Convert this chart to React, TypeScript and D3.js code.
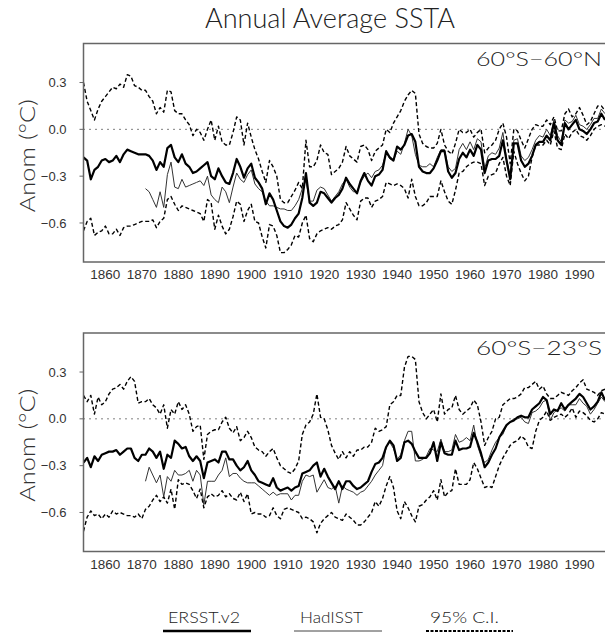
import React from 'react';
import * as d3 from 'd3';

// years covered by each record
const years = d3.range(1854, 1998);
const hadYears = d3.range(1871, 1998);
const xTicks = d3.range(1860, 2000, 10);
const yTicks = [0.3, 0.0, -0.3, -0.6];

// 60S-60N
const ersstGlobal = [
  -0.18, -0.20, -0.32, -0.26, -0.24, -0.20,
  -0.19, -0.21, -0.20, -0.17, -0.21, -0.16, -0.13, -0.14, -0.15, -0.16,
  -0.16, -0.16, -0.17, -0.20, -0.26, -0.21, -0.24, -0.12, -0.10, -0.18,
  -0.21, -0.16, -0.22, -0.24, -0.28, -0.27, -0.25, -0.23, -0.21, -0.30,
  -0.32, -0.25, -0.30, -0.34, -0.35, -0.28, -0.19, -0.24, -0.31, -0.25,
  -0.22, -0.31, -0.34, -0.38, -0.48, -0.41, -0.45, -0.52, -0.59, -0.62,
  -0.63, -0.61, -0.57, -0.54, -0.44, -0.28, -0.47, -0.49, -0.47, -0.40,
  -0.41, -0.44, -0.47, -0.44, -0.42, -0.38, -0.31, -0.35, -0.38, -0.41,
  -0.33, -0.28, -0.33, -0.36, -0.30, -0.29, -0.26, -0.14, -0.18, -0.20,
  -0.11, -0.13, -0.10, -0.04, -0.03, -0.08, -0.24, -0.27, -0.28, -0.28,
  -0.25, -0.20, -0.14, -0.14, -0.27, -0.31, -0.28, -0.19, -0.15, -0.18,
  -0.13, -0.17, -0.10, -0.13, -0.28, -0.20, -0.19, -0.19, -0.17, -0.07,
  -0.20, -0.32, -0.09, -0.09, -0.20, -0.24, -0.22, -0.17, -0.10, -0.08,
  -0.08, -0.04, -0.07, 0.04, -0.07, -0.10, 0.04, 0.00, 0.03, 0.06,
  0.00, -0.01, -0.03, 0.00, 0.04, 0.05, 0.10, 0.06,
];
const hadGlobal = [
  -0.38, -0.40, -0.45, -0.50, -0.40, -0.50, -0.29, -0.21, -0.37,
  -0.38, -0.32, -0.37, -0.36, -0.35, -0.34, -0.33, -0.36, -0.30, -0.42,
  -0.45, -0.47, -0.37, -0.40, -0.47, -0.37, -0.28, -0.32, -0.34, -0.29,
  -0.26, -0.35, -0.38, -0.40, -0.46, -0.49, -0.49, -0.50, -0.51, -0.51,
  -0.52, -0.52, -0.49, -0.45, -0.38, -0.33, -0.46, -0.46, -0.39, -0.37,
  -0.38, -0.42, -0.46, -0.43, -0.40, -0.35, -0.32, -0.37, -0.40, -0.40,
  -0.34, -0.30, -0.28, -0.31, -0.27, -0.26, -0.23, -0.15, -0.19, -0.20,
  -0.14, -0.16, -0.09, 0.00, -0.04, -0.16, -0.23, -0.24, -0.24, -0.22,
  -0.24, -0.18, -0.13, -0.13, -0.24, -0.27, -0.25, -0.13, -0.09, -0.13,
  -0.08, -0.13, -0.06, -0.08, -0.25, -0.17, -0.15, -0.16, -0.12, -0.02,
  -0.19, -0.30, -0.07, -0.06, -0.17, -0.20, -0.18, -0.13, -0.07, -0.04,
  -0.05, 0.00, -0.04, 0.06, -0.04, -0.08, 0.06, 0.04, 0.05, 0.09,
  0.03, 0.02, 0.00, 0.03, 0.07, 0.07, 0.13, 0.10,
];
const upperGlobal = [
  0.30, 0.18, 0.12, 0.06, 0.13, 0.18,
  0.21, 0.24, 0.27, 0.26, 0.29, 0.27, 0.35, 0.34, 0.28, 0.27,
  0.25, 0.25, 0.21, 0.18, 0.10, 0.14, 0.11, 0.25, 0.24, 0.12,
  0.10, 0.10, 0.06, 0.03, -0.04, 0.00, -0.02, -0.07, 0.00, 0.06,
  -0.07, 0.02, -0.08, -0.10, -0.10, -0.02, 0.08, 0.06, -0.10, 0.04,
  -0.05, -0.13, -0.19, -0.27, -0.34, -0.20, -0.24, -0.30, -0.45, -0.47,
  -0.47, -0.43, -0.39, -0.34, -0.38, -0.07, -0.24, -0.24, -0.20, -0.10,
  -0.15, -0.16, -0.29, -0.27, -0.25, -0.21, -0.11, -0.17, -0.19, -0.21,
  -0.11, -0.10, -0.13, -0.20, -0.14, -0.12, -0.10, 0.00, -0.02, 0.04,
  0.08, 0.12, 0.18, 0.22, 0.25, 0.23, -0.03, -0.09, -0.11, -0.12,
  -0.12, -0.09, 0.00, -0.10, -0.14, -0.16, -0.09, 0.00, -0.02, -0.02,
  0.00, -0.05, -0.02, 0.00, -0.15, -0.12, -0.10, -0.07, 0.00, 0.04,
  -0.05, -0.22, 0.00, -0.01, -0.07, -0.12, -0.06, 0.00, 0.03, 0.02,
  0.02, 0.06, 0.03, 0.08, -0.01, -0.01, 0.10, 0.13, 0.08, 0.10,
  0.14, 0.09, 0.03, 0.05, 0.10, 0.15, 0.15, 0.12,
];
const lowerGlobal = [
  -0.65, -0.59, -0.57, -0.68, -0.66, -0.65,
  -0.62, -0.67, -0.67, -0.64, -0.68, -0.63, -0.62, -0.62, -0.61, -0.60,
  -0.59, -0.59, -0.59, -0.58, -0.63, -0.59, -0.57, -0.45, -0.43, -0.48,
  -0.52, -0.49, -0.50, -0.51, -0.52, -0.53, -0.54, -0.59, -0.45, -0.47,
  -0.64, -0.55, -0.62, -0.67, -0.64, -0.56, -0.46, -0.48, -0.59, -0.52,
  -0.48, -0.59, -0.60, -0.69, -0.76, -0.61, -0.62, -0.68, -0.79, -0.79,
  -0.77, -0.74, -0.68, -0.69, -0.60, -0.55, -0.70, -0.72, -0.67, -0.65,
  -0.64, -0.63, -0.64, -0.62, -0.61, -0.58, -0.47, -0.51, -0.55, -0.58,
  -0.46, -0.44, -0.44, -0.50, -0.46, -0.45, -0.43, -0.34, -0.35, -0.36,
  -0.35, -0.36, -0.38, -0.44, -0.32, -0.43, -0.49, -0.49, -0.47, -0.43,
  -0.43, -0.43, -0.33, -0.40, -0.46, -0.48, -0.39, -0.28, -0.27, -0.24,
  -0.22, -0.21, -0.21, -0.22, -0.36, -0.30, -0.29, -0.28, -0.22, -0.18,
  -0.30, -0.36, -0.14, -0.22, -0.28, -0.33, -0.30, -0.18, -0.10, -0.10,
  -0.10, -0.07, -0.10, -0.01, -0.12, -0.13, -0.03, -0.06, -0.02, 0.00,
  -0.04, -0.05, -0.07, -0.04, 0.00, 0.02, 0.03, 0.02,
];

// 60S-23S
const ersstSouth = [
  -0.28, -0.25, -0.31, -0.24, -0.27, -0.23,
  -0.22, -0.21, -0.21, -0.20, -0.23, -0.21, -0.19, -0.19, -0.25, -0.27,
  -0.23, -0.23, -0.19, -0.21, -0.25, -0.21, -0.32, -0.23, -0.25, -0.14,
  -0.16, -0.19, -0.18, -0.24, -0.27, -0.24, -0.27, -0.38, -0.28, -0.27,
  -0.26, -0.28, -0.21, -0.21, -0.26, -0.26, -0.30, -0.33, -0.31, -0.27,
  -0.33, -0.36, -0.40, -0.41, -0.42, -0.43, -0.38, -0.44, -0.46, -0.45,
  -0.44, -0.46, -0.44, -0.43, -0.35, -0.34, -0.33, -0.30, -0.28, -0.37,
  -0.32, -0.37, -0.41, -0.45, -0.40, -0.45, -0.40, -0.40, -0.43, -0.45,
  -0.44, -0.42, -0.40, -0.34, -0.29, -0.28, -0.25, -0.18, -0.14, -0.17,
  -0.27, -0.25, -0.15, -0.14, -0.16, -0.21, -0.25, -0.25, -0.25, -0.22,
  -0.15, -0.27, -0.15, -0.22, -0.23, -0.23, -0.14, -0.20, -0.19, -0.19,
  -0.18, -0.09, -0.15, -0.22, -0.31, -0.28, -0.23, -0.19, -0.12, -0.08,
  -0.04, -0.02, -0.01, 0.01, 0.02, 0.01, 0.01, 0.06, 0.08, 0.10,
  0.14, 0.12, 0.03, 0.06, 0.05, 0.10, 0.06, 0.09, 0.11, 0.13,
  0.16, 0.14, 0.10, 0.06, 0.08, 0.11, 0.17, 0.12,
];
const hadSouth = [
  -0.40, -0.31, -0.36, -0.41, -0.36, -0.50, -0.37, -0.40, -0.33,
  -0.36, -0.36, -0.35, -0.33, -0.40, -0.33, -0.36, -0.55, -0.40, -0.40,
  -0.40, -0.36, -0.33, -0.25, -0.37, -0.35, -0.35, -0.38, -0.40, -0.41,
  -0.41, -0.41, -0.43, -0.45, -0.47, -0.49, -0.47, -0.49, -0.48, -0.48,
  -0.48, -0.52, -0.49, -0.49, -0.40, -0.36, -0.37, -0.36, -0.47, -0.43,
  -0.39, -0.44, -0.45, -0.43, -0.54, -0.43, -0.45, -0.46, -0.47, -0.49,
  -0.47, -0.46, -0.43, -0.40, -0.36, -0.33, -0.30, -0.18, -0.15, -0.19,
  -0.26, -0.23, -0.14, -0.08, -0.08, -0.27, -0.27, -0.26, -0.24, -0.19,
  -0.20, -0.21, -0.13, -0.21, -0.21, -0.20, -0.10, -0.15, -0.14, -0.12,
  -0.14, -0.04, -0.17, -0.24, -0.28, -0.26, -0.20, -0.15, -0.12, -0.10,
  -0.04, -0.02, 0.00, 0.00, 0.01, -0.02, -0.03, 0.04, 0.05, 0.07,
  0.11, 0.12, -0.01, 0.04, 0.06, 0.07, 0.05, 0.09, 0.09, 0.09,
  0.13, 0.10, 0.08, 0.03, 0.06, 0.10, 0.14, 0.11,
];
const upperSouth = [
  0.15, 0.11, 0.15, 0.03, 0.14, 0.09,
  0.11, 0.16, 0.19, 0.20, 0.22, 0.19, 0.24, 0.27, 0.24, 0.10,
  0.11, 0.11, 0.13, 0.09, 0.07, 0.03, 0.09, -0.06, 0.06, 0.03,
  0.11, 0.06, 0.09, 0.03, -0.08, -0.05, -0.04, -0.26, -0.10, -0.08,
  -0.07, -0.07, -0.02, 0.01, -0.06, -0.09, -0.05, -0.14, -0.12, -0.08,
  -0.12, -0.18, -0.20, -0.21, -0.24, -0.21, -0.19, -0.25, -0.30, -0.32,
  -0.34, -0.35, -0.32, -0.27, -0.10, -0.04, -0.02, 0.03, 0.16, 0.01,
  0.00, -0.07, -0.17, -0.22, -0.26, -0.21, -0.25, -0.21, -0.24, -0.20,
  -0.20, -0.18, -0.18, -0.15, -0.06, -0.08, -0.07, -0.05, 0.09, 0.11,
  0.15, 0.15, 0.33, 0.40, 0.40, 0.38, 0.11, 0.04, 0.00, 0.03,
  0.06, -0.02, 0.16, 0.03, 0.06, 0.07, 0.15, 0.06, 0.03, 0.05,
  0.07, 0.12, 0.09, -0.02, -0.17, -0.12, -0.08, 0.00, 0.01, 0.09,
  0.11, 0.13, 0.13, 0.14, 0.16, 0.20, 0.20, 0.22, 0.24, 0.19,
  0.21, 0.16, 0.13, 0.13, 0.15, 0.17, 0.16, 0.15, 0.18, 0.20,
  0.23, 0.25, 0.19, 0.18, 0.17, 0.15, 0.18, 0.19,
];
const lowerSouth = [
  -0.72, -0.63, -0.59, -0.62, -0.61, -0.64,
  -0.61, -0.63, -0.59, -0.61, -0.60, -0.61, -0.62, -0.62, -0.63, -0.61,
  -0.64, -0.58, -0.56, -0.52, -0.49, -0.53, -0.50, -0.54, -0.45, -0.58,
  -0.39, -0.42, -0.41, -0.42, -0.46, -0.51, -0.45, -0.57, -0.50, -0.48,
  -0.50, -0.49, -0.46, -0.50, -0.48, -0.51, -0.52, -0.47, -0.53, -0.48,
  -0.61, -0.60, -0.61, -0.61, -0.63, -0.62, -0.57, -0.62, -0.64, -0.58,
  -0.57, -0.58, -0.59, -0.60, -0.64, -0.63, -0.64, -0.66, -0.73, -0.67,
  -0.64, -0.62, -0.60, -0.63, -0.64, -0.65, -0.61, -0.63, -0.65, -0.68,
  -0.68, -0.66, -0.63, -0.60, -0.53, -0.56, -0.51, -0.43, -0.37, -0.44,
  -0.59, -0.64, -0.53, -0.57, -0.62, -0.66, -0.56, -0.55, -0.52, -0.50,
  -0.46, -0.52, -0.39, -0.50, -0.47, -0.46, -0.32, -0.42, -0.42, -0.42,
  -0.39, -0.28, -0.32, -0.38, -0.44, -0.43, -0.44, -0.37, -0.30, -0.25,
  -0.21, -0.17, -0.15, -0.14, -0.11, -0.13, -0.18, -0.19, -0.08, -0.01,
  0.01, 0.05, -0.01, 0.01, 0.02, 0.03, 0.01, 0.03, 0.07, 0.01,
  0.05, 0.04, 0.02, -0.01, -0.02, 0.00, 0.04, 0.03,
];

const W = 605;
const H = 634;
const LEFT = 83.5;
const RIGHT = 605;
const PANEL_H = 218.5;
const FONT = "Lato, 'Open Sans', 'DejaVu Sans', sans-serif";
const TICK_FONT = "'Liberation Sans Narrow', 'Liberation Sans', Arial, sans-serif";

const x = d3.scaleLinear().domain([1854, 1997]).range([LEFT, RIGHT]);
const fmt = d3.format('.1f');

type PanelProps = {
  id: string;
  top: number;
  label: string;
  ersst: number[];
  had: number[];
  upper: number[];
  lower: number[];
};

const Panel = ({ id, top, label, ersst, had, upper, lower }: PanelProps) => {
  const y = d3.scaleLinear().domain([-0.85, 0.55]).range([top + PANEL_H, top]);
  const line = d3.line<[number, number]>()
    .x(d => x(d[0]))
    .y(d => y(d[1]));
  const pts = (yrs: number[], vals: number[]) =>
    yrs.map((yr, i) => [yr, vals[i]] as [number, number]);
  const midY = top + PANEL_H / 2;

  return (
    <g>
      <defs>
        <clipPath id={`clip-${id}`}>
          <rect x={LEFT} y={top} width={RIGHT - LEFT + 10} height={PANEL_H} />
        </clipPath>
      </defs>

      {/* zero line */}
      <line x1={LEFT} x2={RIGHT} y1={y(0)} y2={y(0)}
        stroke="#000" strokeWidth={1} strokeDasharray="1,5" />

      <g clipPath={`url(#clip-${id})`} fill="none" strokeLinejoin="round">
        <path d={line(pts(years, upper)) || ''} stroke="#000" strokeWidth={1.4} strokeDasharray="4,2.5" />
        <path d={line(pts(years, lower)) || ''} stroke="#000" strokeWidth={1.4} strokeDasharray="4,2.5" />
        <path d={line(pts(hadYears, had)) || ''} stroke="#333" strokeWidth={1} />
        <path d={line(pts(years, ersst)) || ''} stroke="#000" strokeWidth={2.2} />
      </g>

      {/* frame */}
      <rect x={LEFT} y={top} width={RIGHT - LEFT + 20} height={PANEL_H}
        fill="none" stroke="#666" strokeWidth={1.5} />

      {yTicks.map(t => (
        <g key={t}>
          <line x1={LEFT - 4} x2={LEFT} y1={y(t)} y2={y(t)} stroke="#666" strokeWidth={1} />
          <text x={LEFT - 17} y={y(t)} dy="0.35em" textAnchor="end"
            fontFamily={TICK_FONT} fontSize={13} fill="#333">{fmt(t)}</text>
        </g>
      ))}

      {xTicks.map(t => (
        <text key={t} x={x(t)} y={top + PANEL_H + 17} textAnchor="middle"
          fontFamily={TICK_FONT} fontSize={13.5} fill="#333">{t}</text>
      ))}

      <text x={602} y={top + 22} textAnchor="end" fontFamily={FONT} fontWeight={300}
        fontSize={19} fill="#222" textLength={126} lengthAdjust="spacingAndGlyphs">{label}</text>

      <text transform={`translate(35, ${midY + 3}) rotate(-90)`} textAnchor="middle"
        fontFamily={FONT} fontWeight={300} fontSize={22} fill="#333"
        textLength={113} lengthAdjust="spacingAndGlyphs">Anom (°C)</text>
    </g>
  );
};

const App = () => {
  return (
    <svg width={W} height={H} style={{ position: 'absolute', left: 0, top: 0, background: '#fff' }}>
      <text x={330} y={28} textAnchor="middle" fontFamily={FONT} fontWeight={300}
        fontSize={28} fill="#222" textLength={250} lengthAdjust="spacingAndGlyphs">Annual Average SSTA</text>

      <Panel id="glob" top={43.5} label="60°S−60°N"
        ersst={ersstGlobal} had={hadGlobal} upper={upperGlobal} lower={lowerGlobal} />
      <Panel id="south" top={333} label="60°S−23°S"
        ersst={ersstSouth} had={hadSouth} upper={upperSouth} lower={lowerSouth} />

      {/* legend */}
      <g fontFamily={FONT} fontWeight={300} fontSize={15} fill="#222">
        <text x={168} y={623} textLength={72} lengthAdjust="spacingAndGlyphs">ERSST.v2</text>
        <line x1={163} x2={251} y1={631} y2={631} stroke="#000" strokeWidth={2.5} />
        <text x={300} y={623} textLength={63} lengthAdjust="spacingAndGlyphs">HadISST</text>
        <line x1={294} x2={382} y1={631} y2={631} stroke="#444" strokeWidth={1} />
        <text x={430} y={623} textLength={69} lengthAdjust="spacingAndGlyphs">95% C.I.</text>
        <line x1={426} x2={513} y1={631} y2={631} stroke="#000" strokeWidth={2} strokeDasharray="3,1.5" />
      </g>
    </svg>
  );
};

export default App;
